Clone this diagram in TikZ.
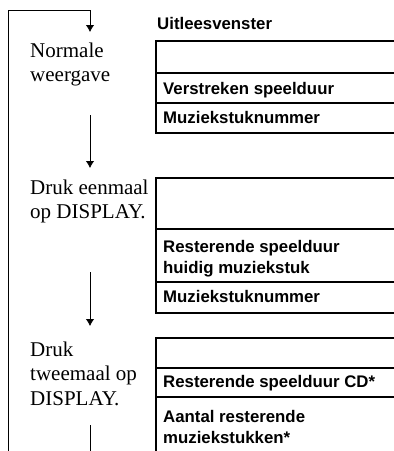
\documentclass[tikz,border=0pt]{standalone}
\usepackage{fontspec}
\setmainfont{Liberation Serif}
\setsansfont{Liberation Sans}
\usetikzlibrary{arrows.meta}

\tikzset{
  stap/.style={anchor=base west, inner sep=0pt, align=left,
    font=\fontsize{21}{24.5}\selectfont},
  regel/.style={anchor=base west, inner sep=0pt, align=left,
    font=\sffamily\bfseries\fontsize{16.8}{21}\selectfont},
  venster/.style={line width=1.2pt},
  lus/.style={line width=0.8pt}
}

\begin{document}
\begin{tikzpicture}[x=1pt, y=-1pt, >={Latex[length=7pt,width=8.5pt]}]

    \clip (0,0) rectangle (394,451);

    % 1. Lus met pijlen links
    \coordinate (lusonder) at (8,455);
    \coordinate (lusboven) at (8,10);
    \coordinate (lushoek) at (90,10);
    \coordinate (pijl1) at (90,32);
    \coordinate (start2) at (90,115);
    \coordinate (pijl2) at (90,168);
    \coordinate (start3) at (90,272);
    \coordinate (pijl3) at (90,326);
    \coordinate (start4) at (90,425);
    \coordinate (eind4) at (90,455);

    \draw[lus] (lusonder) -- (lusboven) -- (lushoek);
    \draw[lus, ->] (lushoek) -- (pijl1);
    \draw[lus, ->] (start2) -- (pijl2);
    \draw[lus, ->] (start3) -- (pijl3);
    \draw[lus] (start4) -- (eind4);

    % 2. Stappen (basislijn = laatste regel)
    \node[stap] (stap1) at (30,81.5) {Normale\\weergave};
    \node[stap] (stap2) at (30,218.5) {Druk eenmaal\\op DISPLAY.};
    \node[stap] (stap3) at (30,405) {Druk\\tweemaal op\\DISPLAY.};

    % 3. Uitleesvensters
    \node[regel] (titel) at (157,29) {Uitleesvenster};

    \draw[venster] (156,41) rectangle (400,133);
    \foreach \y in {73,103}
        \draw[venster] (156,\y) -- (400,\y);
    \node[regel] (v1a) at (163,94) {Verstreken speelduur};
    \node[regel] (v1b) at (163,123.5) {Muziekstuknummer};

    \draw[venster] (156,178) rectangle (400,313);
    \foreach \y in {229,282}
        \draw[venster] (156,\y) -- (400,\y);
    \node[regel] (v2a) at (163,273) {Resterende speelduur\\huidig muziekstuk};
    \node[regel] (v2b) at (163,302.5) {Muziekstuknummer};

    \draw[venster] (156,338) rectangle (400,460);
    \foreach \y in {368,397}
        \draw[venster] (156,\y) -- (400,\y);
    \node[regel] (v3a) at (163,387) {Resterende speelduur CD*};
    \node[regel] (v3b) at (163,443) {Aantal resterende\\muziekstukken*};

\end{tikzpicture}
\end{document}
